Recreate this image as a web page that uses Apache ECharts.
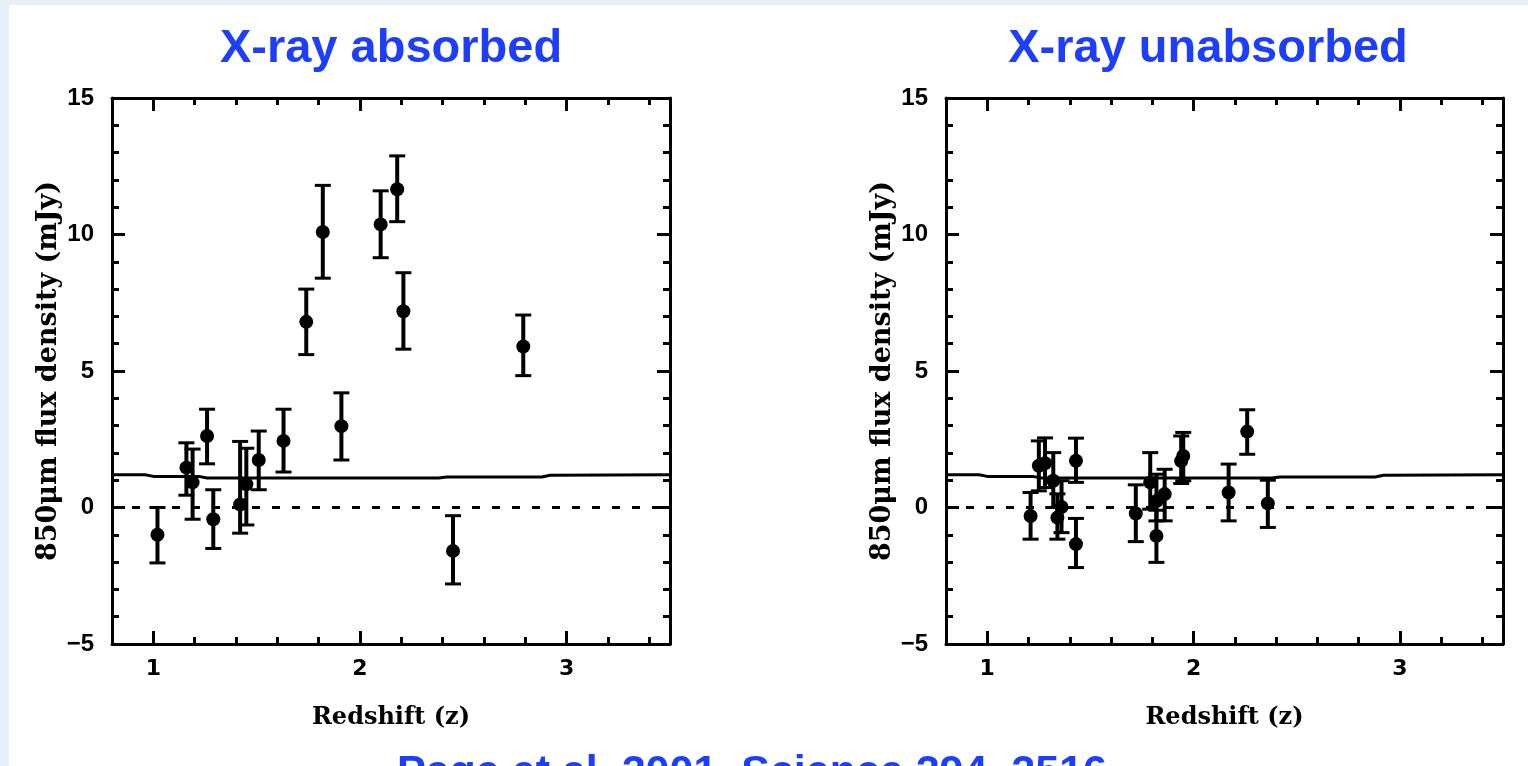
<!DOCTYPE html>
<html>
<head>
<meta charset="utf-8">
<title>Submm flux vs redshift</title>
<script src="https://cdn.jsdelivr.net/npm/echarts@6.0.0/dist/echarts.min.js"></script>
<style>
  html, body { margin: 0; padding: 0; background: #e6f0f8; }
  #page { position: relative; width: 1528px; height: 766px; overflow: hidden; }
  #panel { position: absolute; left: 9px; top: 5px; width: 1519px; height: 761px; background: #fff; }
  #chart { position: absolute; left: 0; top: 0; width: 1528px; height: 766px; }
</style>
</head>
<body>
<div id="page">
  <div id="panel"></div>
  <div id="chart"></div>
</div>
<script>
// axis ranges and labels
const zMin = 0.8, zMax = 3.5
const fluxMin = -5, fluxMax = 15
const zTickLabels = ['1', '2', '3']
const fluxTickLabels = ['\u22125', '0', '5', '10', '15']
const panelTitles = ['X-ray absorbed', 'X-ray unabsorbed']
const xName = 'Redshift (z)'
const yName = '850\u03bcm flux density (mJy)'
const citation = 'Page et al. 2001, Science 294, 2516'

// X-ray absorbed sources
const absZ      = [1.02, 1.16, 1.19, 1.26, 1.29, 1.42, 1.45, 1.51, 1.63, 1.74, 1.82, 1.91, 2.10, 2.18, 2.21, 2.45, 2.79]
const absFlux   = [-1.00, 1.46, 0.92, 2.62, -0.43, 0.11, 0.85, 1.74, 2.44, 6.80, 10.09, 2.98, 10.37, 11.66, 7.19, -1.59, 5.90]
const absErrUp  = [1.00, 0.91, 1.22, 0.98, 1.08, 2.31, 1.32, 1.06, 1.16, 1.20, 1.71, 1.22, 1.23, 1.22, 1.41, 1.29, 1.15]
const absErrLow = [1.03, 1.01, 1.35, 1.02, 1.07, 1.05, 1.49, 1.09, 1.14, 1.20, 1.69, 1.24, 1.22, 1.19, 1.39, 1.21, 1.07]

// X-ray unabsorbed sources
const unabsZ      = [1.21, 1.25, 1.28, 1.32, 1.34, 1.36, 1.43, 1.43, 1.72, 1.79, 1.82, 1.82, 1.86, 1.94, 1.95, 2.17, 2.26, 2.36]
const unabsFlux   = [-0.31, 1.53, 1.62, 0.98, -0.37, 0.02, 1.71, -1.34, -0.22, 0.92, 0.24, -1.04, 0.49, 1.70, 1.89, 0.55, 2.78, 0.15]
const unabsErrUp  = [0.86, 0.91, 0.93, 1.03, 0.87, 0.96, 0.83, 0.94, 1.05, 1.09, 0.98, 0.94, 0.91, 0.92, 0.86, 1.04, 0.80, 0.85]
const unabsErrLow = [0.85, 0.92, 0.89, 0.98, 0.79, 0.94, 0.79, 0.86, 1.03, 0.98, 0.73, 0.97, 0.98, 0.82, 0.91, 1.04, 0.83, 0.88]

// model curve (same in both panels)
const modelZ    = [0.8, 0.96, 1.0, 1.22, 1.26, 2.38, 2.42, 2.88, 2.92, 3.5]
const modelFlux = [1.2, 1.2, 1.14, 1.14, 1.08, 1.08, 1.12, 1.12, 1.18, 1.2]

const black = '#000'
const blue = '#1d3ffb'
const nameFont = { fontFamily: '"DejaVu Serif", serif', fontWeight: 'bold', fontSize: 24, color: black }

const grids = [
  { left: 112, top: 98, width: 558, height: 546 },
  { left: 946, top: 98, width: 557, height: 546 }
]

function zip(a, b) { return a.map((v, i) => [v, b[i]]) }

const xAxes = []
const yAxes = []
grids.forEach((g, gi) => {
  const positions = ['bottom', 'top']
  positions.forEach((pos) => {
    const main = pos === 'bottom'
    // major ticks
    xAxes.push({
      type: 'value', gridIndex: gi, position: pos, min: zMin, max: zMax,
      splitNumber: 3, minInterval: 1, maxInterval: 1,
      axisLine: { show: true, onZero: false, lineStyle: { color: black, width: 3 } },
      axisTick: { show: true, inside: true, length: 13, lineStyle: { color: black, width: 3 } },
      axisLabel: {
        show: main, margin: 14, color: black, fontFamily: '"DejaVu Sans", sans-serif',
        fontWeight: 'bold', fontSize: 22,
        formatter: v => zTickLabels.includes(String(v)) ? String(v) : ''
      },
      splitLine: { show: false },
      name: main ? xName : '', nameLocation: 'middle', nameGap: 62, nameTextStyle: nameFont
    })
    // minor ticks
    xAxes.push({
      type: 'value', gridIndex: gi, position: pos, min: zMin, max: zMax, interval: 0.2,
      axisLine: { show: false, onZero: false },
      axisTick: { show: true, inside: true, length: 7, lineStyle: { color: black, width: 3 } },
      axisLabel: { show: false },
      splitLine: { show: false }
    })
  })
  const ypos = ['left', 'right']
  ypos.forEach((pos) => {
    const main = pos === 'left'
    yAxes.push({
      type: 'value', gridIndex: gi, position: pos, min: fluxMin, max: fluxMax, interval: 5,
      axisLine: { show: true, onZero: false, lineStyle: { color: black, width: 3 } },
      axisTick: { show: true, inside: true, length: 13, lineStyle: { color: black, width: 3 } },
      axisLabel: {
        show: main, margin: 18, color: black, fontFamily: '"Liberation Sans", Arial, sans-serif',
        fontWeight: 'bold', fontSize: 24,
        formatter: v => fluxTickLabels.find(s => s.replace('\u2212', '-') === String(v)) || ''
      },
      splitLine: { show: false },
      name: main ? yName : '', nameLocation: 'middle', nameGap: 50, nameRotate: 90,
      nameTextStyle: Object.assign({}, nameFont, { fontSize: 27 })
    })
    yAxes.push({
      type: 'value', gridIndex: gi, position: pos, min: fluxMin, max: fluxMax, interval: 1,
      axisLine: { show: false, onZero: false },
      axisTick: { show: true, inside: true, length: 7, lineStyle: { color: black, width: 3 } },
      axisLabel: { show: false },
      splitLine: { show: false }
    })
  })
})

function errorBarItem(params, api) {
  const x = api.value(0)
  const top = api.coord([x, api.value(2)])
  const bot = api.coord([x, api.value(1)])
  const hw = 8
  const st = { stroke: black, lineWidth: 3 }
  return {
    type: 'group',
    children: [
      { type: 'line', shape: { x1: top[0], y1: top[1], x2: bot[0], y2: bot[1] }, style: { stroke: black, lineWidth: 4 } },
      { type: 'line', shape: { x1: top[0] - hw, y1: top[1], x2: top[0] + hw, y2: top[1] }, style: st },
      { type: 'line', shape: { x1: bot[0] - hw, y1: bot[1], x2: bot[0] + hw, y2: bot[1] }, style: st }
    ]
  }
}

function panelSeries(gi, z, flux, errUp, errLow) {
  const xi = gi * 4, yi = gi * 4
  return [
    {
      type: 'line', xAxisIndex: xi, yAxisIndex: yi, data: zip(modelZ, modelFlux),
      showSymbol: false, lineStyle: { color: black, width: 3 }, z: 2,
      markLine: {
        silent: true, symbol: 'none', label: { show: false },
        lineStyle: { color: black, width: 3, type: [8, 12] },
        data: [{ yAxis: 0 }]
      }
    },
    {
      type: 'custom', xAxisIndex: xi, yAxisIndex: yi, renderItem: errorBarItem,
      encode: { x: 0, y: [1, 2] }, z: 3,
      data: z.map((v, i) => [v, flux[i] - errLow[i], flux[i] + errUp[i]])
    },
    {
      type: 'scatter', xAxisIndex: xi, yAxisIndex: yi, data: zip(z, flux),
      symbol: 'circle', symbolSize: 14, itemStyle: { color: black, opacity: 1 }, z: 4
    }
  ]
}

const titleFont = 'bold 47px "Liberation Sans", Arial, sans-serif'
const chart = echarts.init(document.getElementById('chart'))
chart.setOption({
  animation: false,
  backgroundColor: 'transparent',
  grid: grids,
  xAxis: xAxes,
  yAxis: yAxes,
  graphic: [
    { type: 'text', x: 391, y: 26, style: { text: panelTitles[0], font: titleFont, fill: blue, align: 'center', textAlign: 'center', verticalAlign: 'top' } },
    { type: 'text', x: 1208, y: 26, style: { text: panelTitles[1], font: titleFont, fill: blue, align: 'center', textAlign: 'center', verticalAlign: 'top' } },
    { type: 'text', x: 752, y: 752, style: { text: citation, font: 'bold 43px "Liberation Sans", Arial, sans-serif', fill: blue, align: 'center', textAlign: 'center', verticalAlign: 'top' } }
  ],
  series: [
    ...panelSeries(0, absZ, absFlux, absErrUp, absErrLow),
    ...panelSeries(1, unabsZ, unabsFlux, unabsErrUp, unabsErrLow)
  ]
})
</script>
</body>
</html>
